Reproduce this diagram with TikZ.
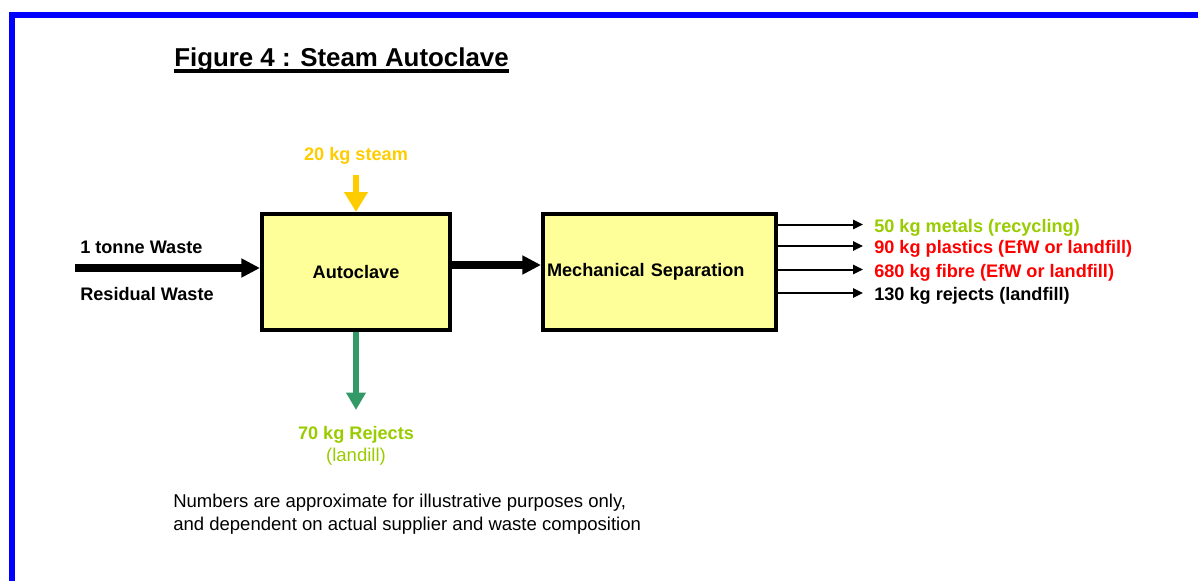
\documentclass[tikz,border=0pt]{standalone}
\usepackage{fontspec}
\setmainfont{Liberation Sans}
\usetikzlibrary{arrows.meta,calc}

\definecolor{frameblue}{RGB}{0,0,255}
\definecolor{boxyellow}{RGB}{255,255,153}
\definecolor{steamyellow}{RGB}{255,204,0}
\definecolor{rejectgreen}{RGB}{51,153,102}
\definecolor{limegreen}{RGB}{153,204,0}
\definecolor{outred}{RGB}{255,0,0}

\tikzset{
  procbox/.style={draw, line width=3pt, fill=boxyellow, minimum height=87pt, font=\fontsize{13.6}{16}\selectfont\bfseries},
  lbl/.style={inner sep=0.75pt, font=\fontsize{13.6}{16}\selectfont\bfseries},
  note/.style={inner sep=0.75pt, font=\fontsize{13.9}{17.25}\selectfont},
  flowarrow/.style={line width=5.5pt, -{Triangle[length=14pt,width=13.5pt]}},
  steamarrow/.style={color=steamyellow, line width=5pt, -{Triangle[length=15pt,width=17pt]}},
  rejectarrow/.style={color=rejectgreen, line width=5pt, -{Triangle[length=13pt,width=14pt]}},
  outarrow/.style={line width=1.5pt, -{Triangle[length=7.5pt,width=7pt]}},
}

\begin{document}
\begin{tikzpicture}[x=0.75pt,y=0.75pt,yscale=-1,xscale=1]
\useasboundingbox (0,0) rectangle (1198,581);

%Frame
\draw [color=frameblue, line width=4.5pt] (1198,15) -- (12,15) -- (12,581) ;

% Title
\node (title) [anchor=base west, inner sep=0pt, font=\fontsize{19.4}{23}\selectfont\bfseries] at (174,67) {Figure 4 : Steam Autoclave};
\draw [line width=2.5pt] ([yshift=3pt]title.base west) -- ([yshift=3pt]title.base east) ;

%Shape: Rectangle
\node (autoclave) [procbox, minimum width=141pt] at (356,272) {Autoclave};
%Shape: Rectangle
\node (mech) [procbox, minimum width=174.75pt, text width=168.75pt, inner xsep=3pt, align=left] at (659.5,272) {Mechanical Separation};

% Text Node
\node (steam) [lbl, anchor=base, text=steamyellow] at (356,161) {20 kg steam};
% Text Node
\node (tonne) [lbl, anchor=base west] at (79,253) {1 tonne Waste};
% Text Node
\node (residual) [lbl, anchor=base west] at (79,300) {Residual Waste};
% Text Node
\node (rejects70) [lbl, anchor=base, text=limegreen] at (356,439) {70 kg Rejects};
% Text Node
\node (landill) [note, anchor=base, text=limegreen] at (356,461) {(landill)};
% Text Node
\node (metals) [lbl, anchor=base west, text=limegreen] at (873,232) {50 kg metals (recycling)};
% Text Node
\node (plastics) [lbl, anchor=base west, text=outred] at (873,253.5) {90 kg plastics (EfW or landfill)};
% Text Node
\node (fibre) [lbl, anchor=base west, text=outred] at (873,277) {680 kg fibre (EfW or landfill)};
% Text Node
\node (rejects) [lbl, anchor=base west] at (873,300.5) {130 kg rejects (landfill)};
% Text Node
\node (notes) [note, anchor=base west, align=left] at (172,530) {Numbers are approximate for illustrative purposes only,\\and dependent on actual supplier and waste composition};

%Straight Lines
\coordinate (wastein) at (75,268);
\draw [flowarrow] (wastein) -- (autoclave.west |- wastein) ;
%Straight Lines
\draw [flowarrow] ([yshift=-5.25pt]autoclave.east) -- ([yshift=-5.25pt]mech.west) ;
%Straight Lines
\coordinate (steamin) at (356,175);
\draw [steamarrow] (steamin) -- (autoclave.north) ;
%Straight Lines
\coordinate (rejout) at (356,410);
\draw [rejectarrow] (autoclave.south) -- (rejout) ;

%Output Lines
\foreach \lab in {metals,plastics,fibre,rejects}{
  \coordinate (tip\lab) at ($(\lab.base west)+(-10,-7.5)$);
  \draw [outarrow] (mech.east |- tip\lab) -- (tip\lab) ;
}

\end{tikzpicture}
\end{document}
